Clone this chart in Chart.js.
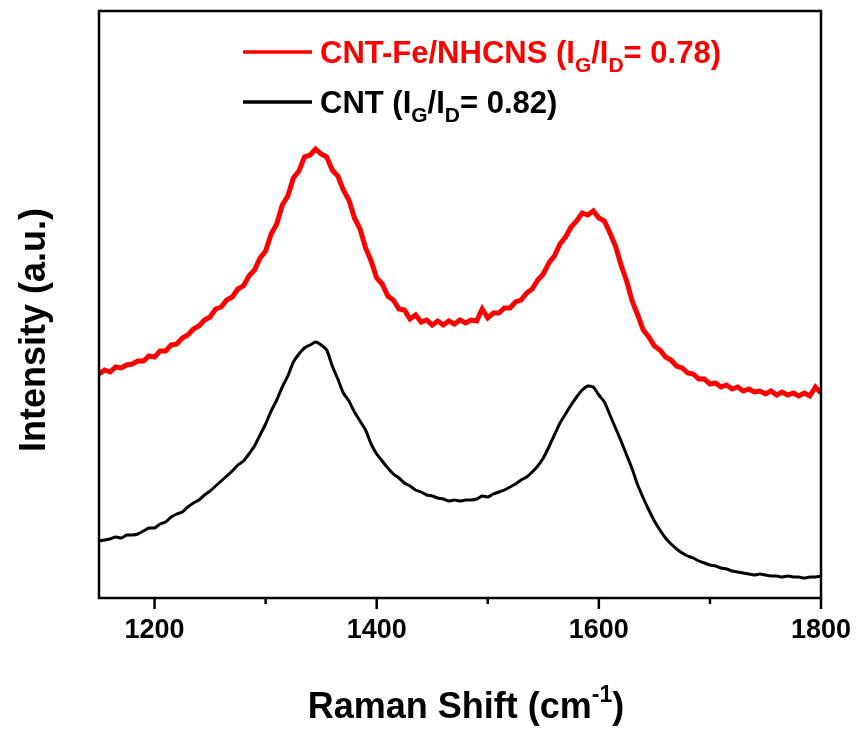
<!DOCTYPE html>
<html>
<head>
<meta charset="utf-8">
<title>Raman spectra</title>
<script src="https://cdn.jsdelivr.net/npm/chart.js@4.4.0/dist/chart.umd.min.js"></script>
<style>
  html, body { margin: 0; padding: 0; background: #fff; }
  canvas { display: block; }
</style>
</head>
<body>
<canvas id="ramanChart" width="856" height="729"></canvas>
<script>
// Raman shift (cm-1), every 5 cm-1
const shifts = [
  1150, 1155, 1160, 1165, 1170, 1175, 1180, 1185, 1190, 1195,
  1200, 1205, 1210, 1215, 1220, 1225, 1230, 1235, 1240, 1245,
  1250, 1255, 1260, 1265, 1270, 1275, 1280, 1285, 1290, 1295,
  1300, 1305, 1310, 1315, 1320, 1325, 1330, 1335, 1340, 1345,
  1350, 1355, 1360, 1365, 1370, 1375, 1380, 1385, 1390, 1395,
  1400, 1405, 1410, 1415, 1420, 1425, 1430, 1435, 1440, 1445,
  1450, 1455, 1460, 1465, 1470, 1475, 1480, 1485, 1490, 1495,
  1500, 1505, 1510, 1515, 1520, 1525, 1530, 1535, 1540, 1545,
  1550, 1555, 1560, 1565, 1570, 1575, 1580, 1585, 1590, 1595,
  1600, 1605, 1610, 1615, 1620, 1625, 1630, 1635, 1640, 1645,
  1650, 1655, 1660, 1665, 1670, 1675, 1680, 1685, 1690, 1695,
  1700, 1705, 1710, 1715, 1720, 1725, 1730, 1735, 1740, 1745,
  1750, 1755, 1760, 1765, 1770, 1775, 1780, 1785, 1790, 1795,
  1800
];

// intensity (a.u.) (noisy trace)
const cntFe = [
  224, 228, 226, 231, 230, 233, 234, 237, 237, 242,
  241, 247, 247, 253, 254, 260, 263, 269, 272, 278,
  281, 289, 291, 298, 301, 309, 312, 322, 328, 340,
  347, 364, 374, 393, 402, 420, 427, 441, 443, 449,
  444, 441, 428, 422, 408, 398, 380, 369, 350, 337,
  320, 314, 302, 298, 289, 288, 279, 283, 276, 278,
  273, 277, 273, 277, 274, 278, 275, 278, 277, 289,
  280, 285, 285, 290, 290, 296, 298, 305, 309, 318,
  324, 335, 342, 354, 361, 371, 377, 385, 383, 387,
  380, 377, 365, 352, 333, 317, 297, 283, 268, 261,
  252, 248, 241, 238, 232, 230, 225, 224, 219, 219,
  214, 215, 211, 213, 209, 211, 207, 209, 206, 207,
  204, 207, 203, 206, 203, 205, 202, 205, 202, 211,
  205
];

const cnt = [
  57, 58, 59, 61, 60, 63, 63, 64, 67, 70,
  70, 74, 76, 81, 84, 86, 91, 95, 98, 103,
  107, 112, 117, 122, 127, 133, 137, 144, 152, 163,
  174, 187, 198, 211, 222, 236, 244, 250, 253, 256,
  253, 248, 232, 219, 205, 197, 186, 177, 168, 154,
  144, 137, 130, 124, 120, 115, 112, 108, 106, 103,
  102, 100, 99, 97, 98, 97, 98, 98, 99, 102,
  101, 104, 106, 108, 111, 114, 118, 121, 126, 132,
  140, 151, 163, 175, 184, 193, 201, 208, 212, 211,
  203, 196, 183, 170, 157, 143, 129, 113, 100, 88,
  77, 68, 60, 54, 49, 45, 42, 40, 37, 35,
  33, 32, 30, 29, 27, 26, 25, 24, 23, 24,
  23, 22, 22, 21, 22, 21, 21, 20, 21, 21,
  22
];

const xTicks = [1200, 1300, 1400, 1500, 1600, 1700, 1800];
const xLabelled = [1200, 1400, 1600, 1800];

const fontFamily = '"Liberation Sans", Arial, sans-serif';

function drawRich(ctx, parts, x, y, align) {
  let total = 0;
  parts.forEach(p => {
    ctx.font = 'bold ' + p[1] + 'px ' + fontFamily;
    total += ctx.measureText(p[0]).width;
  });
  let cx = align === 'center' ? x - total / 2 : x;
  parts.forEach(p => {
    ctx.font = 'bold ' + p[1] + 'px ' + fontFamily;
    ctx.fillText(p[0], cx, y + p[2]);
    cx += ctx.measureText(p[0]).width;
  });
}

const decorations = {
  id: 'decorations',
  afterDraw(chart) {
    const { ctx, chartArea: a, scales: { x } } = chart;
    ctx.save();
    ctx.strokeStyle = '#000';
    ctx.fillStyle = '#000';
    ctx.lineWidth = 2.5;
    ctx.strokeRect(a.left, a.top, a.right - a.left, a.bottom - a.top);

    // tick marks, long ones under the labels
    xTicks.forEach(v => {
      const px = x.getPixelForValue(v);
      const len = xLabelled.includes(v) ? 11 : 6;
      ctx.beginPath();
      ctx.moveTo(px, a.bottom);
      ctx.lineTo(px, a.bottom + len);
      ctx.stroke();
    });

    // legend
    ctx.textAlign = 'left';
    ctx.textBaseline = 'alphabetic';
    ctx.lineWidth = 3.5;
    const rows = [
      { color: '#ff0000', y: 52, parts: [['CNT-Fe/NHCNS (I', 31, 0], ['G', 21, 9], ['/I', 31, 0], ['D', 21, 9], ['= 0.78)', 31, 0]] },
      { color: '#000000', y: 102, parts: [['CNT (I', 31, 0], ['G', 21, 9], ['/I', 31, 0], ['D', 21, 9], ['= 0.82)', 31, 0]] }
    ];
    rows.forEach(r => {
      ctx.strokeStyle = r.color;
      ctx.fillStyle = r.color;
      ctx.beginPath();
      ctx.moveTo(243, r.y);
      ctx.lineTo(312, r.y);
      ctx.stroke();
      drawRich(ctx, r.parts, 320, r.y + 11, 'left');
    });

    // axis titles
    ctx.fillStyle = '#000';
    drawRich(ctx, [['Raman Shift (cm', 36, 0], ['-1', 23, -16], [')', 36, 0]], 466, 718, 'center');

    ctx.translate(45, 330);
    ctx.rotate(-Math.PI / 2);
    ctx.textAlign = 'center';
    ctx.font = 'bold 36px ' + fontFamily;
    ctx.fillText('Intensity (a.u.)', 0, 0);
    ctx.restore();
  }
};

const ctx = document.getElementById('ramanChart').getContext('2d');

new Chart(ctx, {
  type: 'line',
  data: {
    labels: shifts,
    datasets: [
      {
        label: 'CNT-Fe/NHCNS',
        data: cntFe,
        borderColor: '#ff0000',
        borderWidth: 5,
        pointRadius: 0,
        tension: 0
      },
      {
        label: 'CNT',
        data: cnt,
        borderColor: '#000000',
        borderWidth: 3,
        pointRadius: 0,
        tension: 0.2
      }
    ]
  },
  options: {
    responsive: false,
    animation: false,
    events: [],
    layout: {
      padding: { left: 99, right: 35, top: 11, bottom: 0 }
    },
    plugins: {
      legend: { display: false },
      tooltip: { enabled: false }
    },
    scales: {
      x: {
        type: 'linear',
        min: 1150,
        max: 1800,
        afterFit(scale) {
          scale.height = 131;
          scale.paddingLeft = 0;
          scale.paddingRight = 0;
        },
        afterBuildTicks(scale) {
          scale.ticks = xLabelled.map(v => ({ value: v }));
        },
        grid: { display: false, drawTicks: false },
        border: { display: false },
        ticks: {
          padding: 16,
          maxRotation: 0,
          color: '#000',
          callback: v => String(v),
          font: { family: fontFamily, size: 27, weight: 'bold' }
        }
      },
      y: {
        display: false,
        min: 0,
        max: 587
      }
    }
  },
  plugins: [decorations]
});
</script>
</body>
</html>
